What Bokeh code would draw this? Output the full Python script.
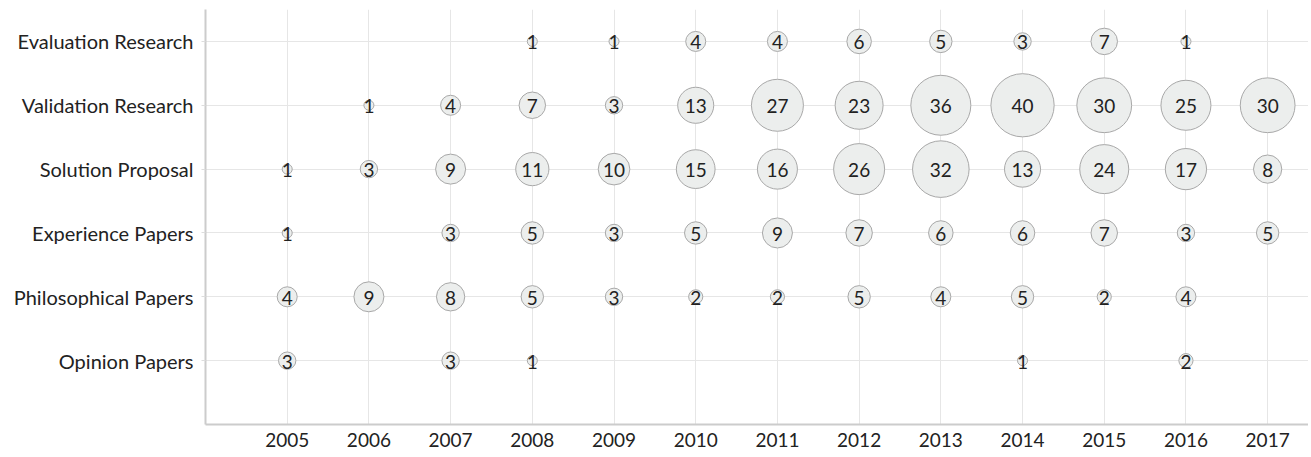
from bokeh.plotting import figure
from bokeh.models import ColumnDataSource, FixedTicker, Range1d
from bokeh.core.properties import value
from bokeh.embed import file_html
from bokeh.resources import INLINE
import math

categories = ["Opinion Papers", "Philosophical Papers", "Experience Papers",
              "Solution Proposal", "Validation Research", "Evaluation Research"]
years = list(range(2005, 2018))

evaluation_research = [None, None, None, 1, 1, 4, 4, 6, 5, 3, 7, 1, None]
validation_research = [None, 1, 4, 7, 3, 13, 27, 23, 36, 40, 30, 25, 30]
solution_proposal = [1, 3, 9, 11, 10, 15, 16, 26, 32, 13, 24, 17, 8]
experience_papers = [1, None, 3, 5, 3, 5, 9, 7, 6, 6, 7, 3, 5]
philosophical_papers = [4, 9, 8, 5, 3, 2, 2, 5, 4, 5, 2, 4, None]
opinion_papers = [3, None, 3, 1, None, None, None, None, None, 1, None, 2, None]

series = [opinion_papers, philosophical_papers, experience_papers,
          solution_proposal, validation_research, evaluation_research]

xs, ys, vals, sizes, labels = [], [], [], [], []
for i, row in enumerate(series):
    for yr, v in zip(years, row):
        if v is None:
            continue
        xs.append(yr)
        ys.append(i + 1)
        vals.append(v)
        sizes.append(10 * math.sqrt(v))
        labels.append(str(v))

src = ColumnDataSource(dict(x=xs, y=ys, v=vals, s=sizes, t=labels))

FONT = "Lato"

p = figure(frame_width=1103, frame_height=415, output_backend="svg",
           toolbar_location=None, x_range=Range1d(2004, 2017.5),
           y_range=Range1d(0, 6.5), min_border_left=205, min_border_top=9,
           min_border_right=0, min_border_bottom=30)
p.outline_line_color = None
p.background_fill_color = "white"

p.scatter("x", "y", size="s", source=src, fill_color="#eceeed",
          line_color="#a8a8a8", line_width=1)
p.text("x", "y", text="t", source=src, text_align="center",
       text_baseline="middle", text_font=value(FONT), y_offset=1,
       text_font_size="19px", text_color="#222222")

p.xaxis.ticker = FixedTicker(ticks=years)
p.yaxis.ticker = FixedTicker(ticks=list(range(1, 7)))
p.yaxis.major_label_overrides = {i + 1: c for i, c in enumerate(categories)}

for ax in (p.xaxis[0], p.yaxis[0]):
    ax.axis_line_color = "#cccccc"
    ax.axis_line_width = 2
    ax.major_label_text_font = FONT
    ax.major_label_text_font_size = "19px"
    ax.major_label_text_color = "#222222"
    ax.minor_tick_line_color = None
    ax.major_tick_in = 0

p.yaxis.major_label_text_font_size = "20px"
p.xaxis.major_tick_out = 0
p.xaxis.major_label_standoff = 8
p.yaxis.major_tick_out = 4
p.yaxis.major_tick_line_color = "#dddddd"
p.yaxis.major_label_standoff = 8

p.xgrid.ticker = FixedTicker(ticks=years)
p.ygrid.ticker = FixedTicker(ticks=list(range(1, 7)))
p.grid.grid_line_color = "#e6e6e6"
p.grid.grid_line_width = 1

open("out.html", "w").write(file_html(p, INLINE))
